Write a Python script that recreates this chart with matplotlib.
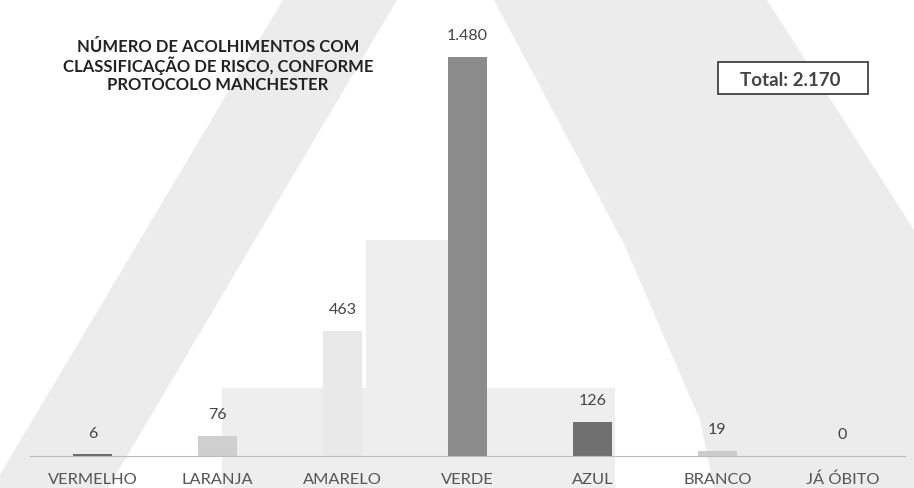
import matplotlib
matplotlib.use("Agg")
import matplotlib.pyplot as plt
from matplotlib.patches import Polygon, Rectangle

plt.rcParams['font.family'] = ['Lato', 'DejaVu Sans']

categorias = ["VERMELHO", "LARANJA", "AMARELO", "VERDE", "AZUL", "BRANCO", "JÁ ÓBITO"]
valores = [6, 76, 463, 1480, 126, 19, 0]
rotulos = ["6", "76", "463", "1.480", "126", "19", "0"]
cores = ["#6b6b6b", "#cfcfcf", "#e9e9e9", "#8c8c8c", "#707070", "#cccccc", "#cccccc"]
total = "Total: 2.170"

W, H = 914, 488
fig = plt.figure(figsize=(W / 100, H / 100), dpi=100)


def px(x, y):
    # pixels (origem no topo) -> fração da figura
    return (x / W, 1 - y / H)


# marca d'água "A" do documento escaneado
cinza = "#ececec"
perna_esq = [px(283, 0), px(397, 0), px(108, 488), px(-8, 488)]
perna_dir = [px(494, 0), px(767, 0), px(914, 230), px(914, 488), px(714, 488),
             px(700, 420), px(624, 244)]
for pts in (perna_esq, perna_dir):
    fig.patches.append(Polygon(pts, closed=True, transform=fig.transFigure,
                               facecolor=cinza, edgecolor="none", zorder=0))
fig.patches.append(Polygon([px(366, 240), px(476, 240), px(476, 388), px(615, 388),
                            px(615, 488), px(222, 488), px(222, 388), px(366, 388)],
                           closed=True, transform=fig.transFigure,
                           facecolor="#eeeeee", edgecolor="none", zorder=0))

ax = fig.add_axes([30 / W, 1 - 456 / H, 875 / W, 436 / H])
ax.set_zorder(1)
ax.patch.set_alpha(0)
x = range(len(categorias))
barras = ax.bar(x, valores, width=0.31, color=cores, zorder=2)
ax.set_xlim(-0.5, 6.5)
ax.set_ylim(0, 1480 * 436 / 399)

for xi, v, r in zip(x, valores, rotulos):
    ax.annotate(r, (xi, v), xytext=(0, 15), textcoords="offset points",
                ha="center", va="center", fontsize=11.5, color="#444444")

for s in ["top", "right", "left"]:
    ax.spines[s].set_visible(False)
ax.spines["bottom"].set_color("#bbbbbb")
ax.spines["bottom"].set_linestyle((0, (2, 1)))
ax.set_yticks([])
ax.set_xticks(list(x))
ax.set_xticklabels(categorias, fontsize=11.8, color="#555555")
ax.tick_params(axis="x", length=0, pad=12)

fig.text(218 / W, 1 - 66 / H,
         "NÚMERO DE ACOLHIMENTOS COM\nCLASSIFICAÇÃO DE RISCO, CONFORME\nPROTOCOLO MANCHESTER",
         ha="center", va="center", fontsize=12, fontweight="bold", color="#222222",
         linespacing=1.1, zorder=3)

fig.patches.append(Rectangle(px(718, 94), 150 / W, 32 / H, transform=fig.transFigure,
                             facecolor="white", edgecolor="#333333", linewidth=1.2, zorder=3))
fig.text(790 / W, 1 - 81 / H, total, ha="center", va="center", fontsize=13.5,
         fontweight="bold", color="#444444", zorder=4)

fig.savefig("out.png", dpi=100)
